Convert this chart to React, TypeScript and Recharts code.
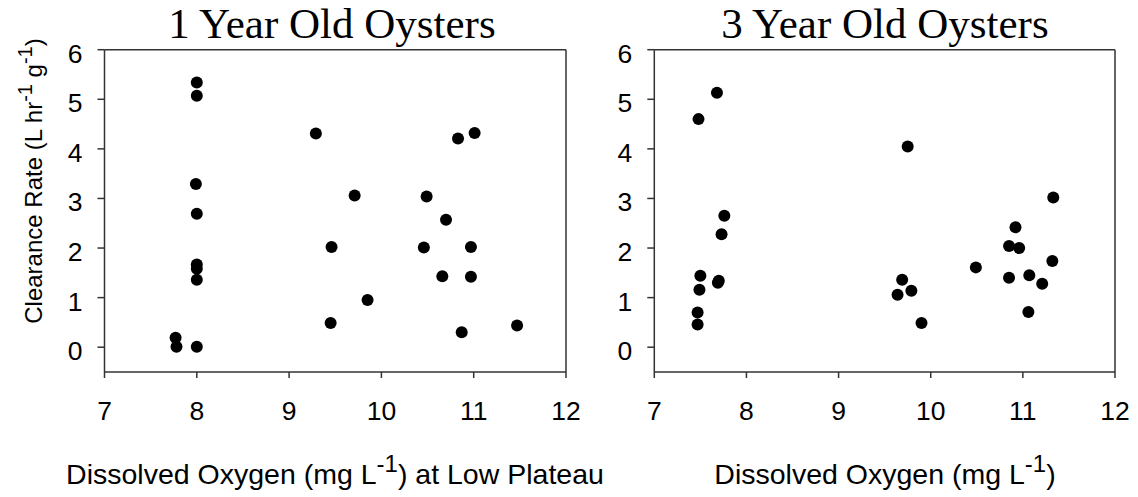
import { ScatterChart, Scatter, XAxis, YAxis, ReferenceLine } from 'recharts'

// dissolved oxygen (mg/L) and clearance rate (L/hr/g)
const oneYearOxygen = [8.0, 8.0, 9.29, 11.01, 10.83, 7.99, 9.71, 10.49, 8.0, 10.7, 9.46, 10.46, 10.97, 8.0, 8.0, 8.0, 10.66, 10.97, 9.85, 9.45, 10.87, 11.47, 7.77, 7.78, 8.0]
const oneYearRate = [5.34, 5.07, 4.31, 4.32, 4.21, 3.29, 3.06, 3.04, 2.69, 2.57, 2.02, 2.01, 2.02, 1.67, 1.58, 1.36, 1.43, 1.42, 0.95, 0.49, 0.3, 0.44, 0.19, 0.01, 0.01]

const threeYearOxygen = [7.68, 7.48, 9.75, 11.33, 7.76, 7.73, 10.92, 10.85, 10.96, 10.49, 11.32, 7.5, 7.7, 7.69, 10.85, 11.07, 11.21, 7.49, 9.69, 9.79, 9.64, 7.47, 11.06, 7.47, 9.9]
const threeYearRate = [5.13, 4.6, 4.05, 3.02, 2.65, 2.28, 2.42, 2.04, 2.0, 1.61, 1.74, 1.44, 1.34, 1.3, 1.4, 1.45, 1.28, 1.16, 1.36, 1.14, 1.06, 0.7, 0.71, 0.46, 0.49]

const xTicks = [7, 8, 9, 10, 11, 12]
const yTicks = [0, 1, 2, 3, 4, 5, 6]

const SANS = '"Liberation Sans", Arial, sans-serif'
const SERIF = '"Liberation Serif", "Times New Roman", serif'
const AXIS = '#333'
const TICK_FONT = 26.5

const toPoints = (xs: number[], ys: number[]) => xs.map((x, i) => ({ x, y: ys[i] }))

const Dot = (props: any) => <circle cx={props.cx} cy={props.cy} r={6} fill="#000" />

// y tick labels sit a little below their tick in the original
const YTick = ({ x, y, payload }: any) => (
  <text x={x} y={y + 3.5} dy="0.355em" textAnchor="end" fontSize={TICK_FONT} fontFamily={SANS} fill="#000">
    {payload.value}
  </text>
)

function Panel({ data, left, width, margin }: { data: { x: number; y: number }[]; left: number; width: number; margin: any }) {
  return (
    <div style={{ position: 'absolute', left, top: 0 }}>
      <ScatterChart width={width} height={497} margin={margin}>
        <XAxis
          type="number"
          dataKey="x"
          domain={[7, 12]}
          ticks={xTicks}
          stroke={AXIS}
          strokeWidth={1.5}
          tickSize={6}
          tickMargin={23.5}
          height={60}
          tick={{ fill: '#000', fontSize: TICK_FONT, fontFamily: SANS }}
        />
        <YAxis
          type="number"
          dataKey="y"
          domain={[-0.5, 6]}
          ticks={yTicks}
          stroke={AXIS}
          strokeWidth={1.5}
          tickSize={7}
          tickMargin={15}
          width={40}
          tick={<YTick />}
        />
        <ReferenceLine y={6} stroke={AXIS} strokeWidth={1.5} />
        <ReferenceLine x={12} stroke={AXIS} strokeWidth={1.5} />
        <Scatter data={data} shape={Dot} isAnimationActive={false} />
      </ScatterChart>
    </div>
  )
}

export default function App() {
  return (
    <div style={{ position: 'relative', width: 1138, height: 497, background: '#fff' }}>
      <style>{'body{margin:0}'}</style>
      <Panel data={toPoints(oneYearOxygen, oneYearRate)} left={0} width={580} margin={{ top: 49.7, right: 14, bottom: 65, left: 64.5 }} />
      <Panel data={toPoints(threeYearOxygen, threeYearRate)} left={570} width={568} margin={{ top: 49.7, right: 23, bottom: 65, left: 44.3 }} />
      <svg width={1138} height={497} style={{ position: 'absolute', left: 0, top: 0, pointerEvents: 'none' }}>
        <text x={332} y={38} textAnchor="middle" fontFamily={SERIF} fontSize={43} fill="#000">1 Year Old Oysters</text>
        <text x={885} y={38} textAnchor="middle" fontFamily={SERIF} fontSize={43} fill="#000">3 Year Old Oysters</text>
        <text x={42} y={181} transform="rotate(-90 42 181)" textAnchor="middle" fontFamily={SANS} fontSize={24} fill="#000">
          Clearance Rate (L hr<tspan dy={-10} fontSize={20}>-1</tspan><tspan dy={10}> g</tspan><tspan dy={-10} fontSize={20}>-1</tspan><tspan dy={10}>)</tspan>
        </text>
        <text x={335} y={484} textAnchor="middle" fontFamily={SANS} fontSize={28.5} fill="#000">
          Dissolved Oxygen (mg L<tspan dy={-12} fontSize={24}>-1</tspan><tspan dy={12}>) at Low Plateau</tspan>
        </text>
        <text x={885} y={484} textAnchor="middle" fontFamily={SANS} fontSize={28.5} fill="#000">
          Dissolved Oxygen (mg L<tspan dy={-12} fontSize={24}>-1</tspan><tspan dy={12}>)</tspan>
        </text>
      </svg>
    </div>
  )
}
